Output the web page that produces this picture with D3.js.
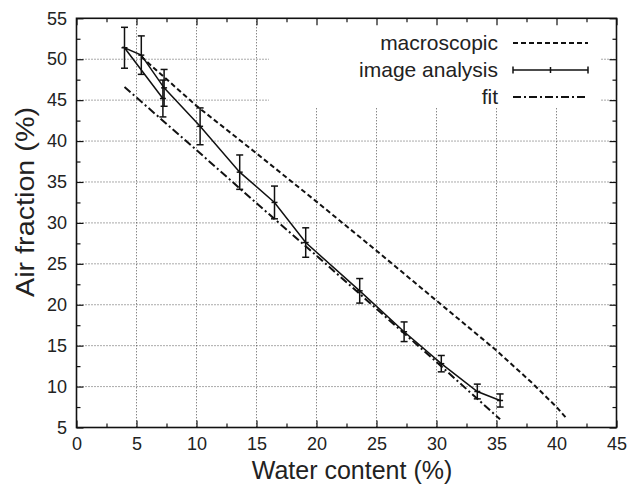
<!DOCTYPE html>
<html>
<head>
<meta charset="utf-8">
<script src="https://cdn.jsdelivr.net/npm/d3@7"></script>
<style>
  html, body { margin: 0; padding: 0; background: #fff; }
  svg { display: block; font-family: "Liberation Sans", Arial, Helvetica, sans-serif; }
</style>
</head>
<body>
<svg id="chart" width="627" height="490"></svg>
<script>
// ---- data ----
const xTicks = [0, 5, 10, 15, 20, 25, 30, 35, 40, 45];
const yTicks = [5, 10, 15, 20, 25, 30, 35, 40, 45, 50, 55];
const xMinor = [2.5, 7.5, 12.5, 17.5, 22.5, 27.5, 32.5, 37.5, 42.5];
const yMinor = [7.5, 12.5, 17.5, 22.5, 27.5, 32.5, 37.5, 42.5, 47.5, 52.5];

// image analysis (in the order the line was drawn)
const waterImg = [7.2, 4.0, 5.4, 7.3, 10.3, 13.6, 16.5, 19.1, 23.6, 27.3, 30.4, 33.4, 35.3];
const airImg   = [45.2, 51.4, 50.5, 46.5, 41.8, 36.2, 32.5, 27.6, 21.7, 16.7, 12.8, 9.4, 8.3];
const errImg   = [2.25, 2.5, 2.35, 2.25, 2.25, 2.1, 2.0, 1.8, 1.5, 1.2, 1.0, 0.9, 0.8];

// macroscopic
const waterMacro = [5.4, 10, 15, 20, 25, 30, 35, 38, 40, 40.9];
const airMacro   = [50.3, 44.3, 38.5, 32.6, 26.6, 20.5, 14.4, 10.4, 7.5, 6.0];

// fit
const waterFit = [4.0, 10, 15, 20, 25, 30, 35.3];
const airFit   = [46.6, 38.9, 32.4, 26.0, 19.5, 13.0, 6.0];

const seriesNames = ["macroscopic", "image analysis", "fit"];

// ---- layout ----
const L = 76.5, R = 616.5, T = 18.3, B = 427.5;
const svg = d3.select("#chart");
const x = d3.scaleLinear().domain([0, 45]).range([L, R]);
const y = d3.scaleLinear().domain([5, 55]).range([B, T]);
const ink = "#111";
const txt = "#222";

// grid
const grid = svg.append("g").attr("stroke", "#555").attr("stroke-width", 1).attr("stroke-dasharray", "1,2");
grid.selectAll("line.v").data(xTicks.filter(d => d > 0 && d < 45)).join("line")
  .attr("x1", d => x(d)).attr("x2", d => x(d)).attr("y1", T).attr("y2", B);
grid.selectAll("line.h").data(yTicks.filter(d => d > 5 && d < 55)).join("line")
  .attr("x1", L).attr("x2", R).attr("y1", d => y(d)).attr("y2", d => y(d));

// opaque key box (masks the grid)
svg.append("rect").attr("x", 269).attr("y", T).attr("width", 331).attr("height", 107 - T).attr("fill", "#fff");

// axes
function styleAxis(g) {
  g.select(".domain").remove();
  g.selectAll(".tick line").attr("stroke", ink).attr("stroke-width", 1.2);
  g.selectAll(".tick text").attr("fill", txt).style("font-size", "18px")
    .style("font-family", "'Liberation Sans', Arial, sans-serif");
}
svg.append("g").attr("transform", `translate(0,${B})`)
  .call(d3.axisBottom(x).tickValues(xTicks).tickSize(-7).tickSizeOuter(0).tickPadding(10).tickFormat(d3.format("d")))
  .call(styleAxis);
svg.append("g").attr("transform", `translate(0,${B})`)
  .call(d3.axisBottom(x).tickValues(xMinor).tickSize(-4).tickSizeOuter(0).tickFormat(""))
  .call(styleAxis);
svg.append("g").attr("transform", `translate(0,${T})`)
  .call(d3.axisTop(x).tickValues(xTicks).tickSize(-7).tickSizeOuter(0).tickFormat(""))
  .call(styleAxis);
svg.append("g").attr("transform", `translate(0,${T})`)
  .call(d3.axisTop(x).tickValues(xMinor).tickSize(-4).tickSizeOuter(0).tickFormat(""))
  .call(styleAxis);
svg.append("g").attr("transform", `translate(${L},0)`)
  .call(d3.axisLeft(y).tickValues(yTicks).tickSize(-7).tickSizeOuter(0).tickPadding(9.5).tickFormat(d3.format("d")))
  .call(styleAxis);
svg.append("g").attr("transform", `translate(${L},0)`)
  .call(d3.axisLeft(y).tickValues(yMinor).tickSize(-4).tickSizeOuter(0).tickFormat(""))
  .call(styleAxis);
svg.append("g").attr("transform", `translate(${R},0)`)
  .call(d3.axisRight(y).tickValues(yTicks).tickSize(-7).tickSizeOuter(0).tickFormat(""))
  .call(styleAxis);
svg.append("g").attr("transform", `translate(${R},0)`)
  .call(d3.axisRight(y).tickValues(yMinor).tickSize(-4).tickSizeOuter(0).tickFormat(""))
  .call(styleAxis);

// frame
svg.append("rect").attr("x", L).attr("y", T).attr("width", R - L).attr("height", B - T)
  .attr("fill", "none").attr("stroke", ink).attr("stroke-width", 1.6);

// axis titles
svg.append("text").attr("x", 352).attr("y", 479).attr("text-anchor", "middle")
  .attr("fill", txt).style("font-size", "25px").text("Water content (%)");
svg.append("text").attr("transform", `translate(34,202) rotate(-90)`).attr("text-anchor", "middle")
  .attr("textLength", 190).attr("lengthAdjust", "spacingAndGlyphs")
  .attr("fill", txt).style("font-size", "26px").text("Air fraction (%)");

// lines
const line = d3.line().x(d => x(d[0])).y(d => y(d[1]));
const macro = waterMacro.map((w, i) => [w, airMacro[i]]);
const fit = waterFit.map((w, i) => [w, airFit[i]]);
const img = waterImg.map((w, i) => [w, airImg[i], errImg[i]]);

svg.append("path").datum(macro).attr("d", line).attr("fill", "none")
  .attr("stroke", ink).attr("stroke-width", 2).attr("stroke-dasharray", "5,3");
svg.append("path").datum(fit).attr("d", line).attr("fill", "none")
  .attr("stroke", ink).attr("stroke-width", 2).attr("stroke-dasharray", "8,3,2,3");
svg.append("path").datum(img).attr("d", line).attr("fill", "none")
  .attr("stroke", ink).attr("stroke-width", 1.5);

// error bars
const eb = svg.append("g").attr("stroke", ink).attr("stroke-width", 1.5);
const cap = 3.5;
eb.selectAll("line.v").data(img).join("line")
  .attr("x1", d => x(d[0])).attr("x2", d => x(d[0]))
  .attr("y1", d => y(d[1] + d[2])).attr("y2", d => y(d[1] - d[2]));
eb.selectAll("line.t").data(img).join("line")
  .attr("x1", d => x(d[0]) - cap).attr("x2", d => x(d[0]) + cap)
  .attr("y1", d => y(d[1] + d[2])).attr("y2", d => y(d[1] + d[2]));
eb.selectAll("line.b").data(img).join("line")
  .attr("x1", d => x(d[0]) - cap).attr("x2", d => x(d[0]) + cap)
  .attr("y1", d => y(d[1] - d[2])).attr("y2", d => y(d[1] - d[2]));
eb.selectAll("line.m").data(img).join("line")
  .attr("x1", d => x(d[0]) - 3).attr("x2", d => x(d[0]) + 3)
  .attr("y1", d => y(d[1])).attr("y2", d => y(d[1]));

// legend
const legX = 498, sx1 = 513, sx2 = 588, legY = [43, 70, 97];
const leg = svg.append("g");
leg.selectAll("text").data(seriesNames).join("text")
  .attr("x", legX).attr("y", (d, i) => legY[i]).attr("dy", "0.35em").attr("text-anchor", "end")
  .attr("fill", txt).style("font-size", "21px").text(d => d);
leg.append("line").attr("x1", sx1).attr("x2", sx2).attr("y1", legY[0]).attr("y2", legY[0])
  .attr("stroke", ink).attr("stroke-width", 2).attr("stroke-dasharray", "5,3");
leg.append("line").attr("x1", sx1).attr("x2", sx2).attr("y1", legY[1]).attr("y2", legY[1])
  .attr("stroke", ink).attr("stroke-width", 1.5);
[sx1, sx2].forEach(cx => leg.append("line").attr("x1", cx).attr("x2", cx)
  .attr("y1", legY[1] - cap).attr("y2", legY[1] + cap).attr("stroke", ink).attr("stroke-width", 1.5));
leg.append("line").attr("x1", (sx1 + sx2) / 2).attr("x2", (sx1 + sx2) / 2)
  .attr("y1", legY[1] - 3).attr("y2", legY[1] + 3).attr("stroke", ink).attr("stroke-width", 1.5);
leg.append("line").attr("x1", sx1).attr("x2", sx2).attr("y1", legY[2]).attr("y2", legY[2])
  .attr("stroke", ink).attr("stroke-width", 2).attr("stroke-dasharray", "8,3,2,3");
</script>
</body>
</html>
